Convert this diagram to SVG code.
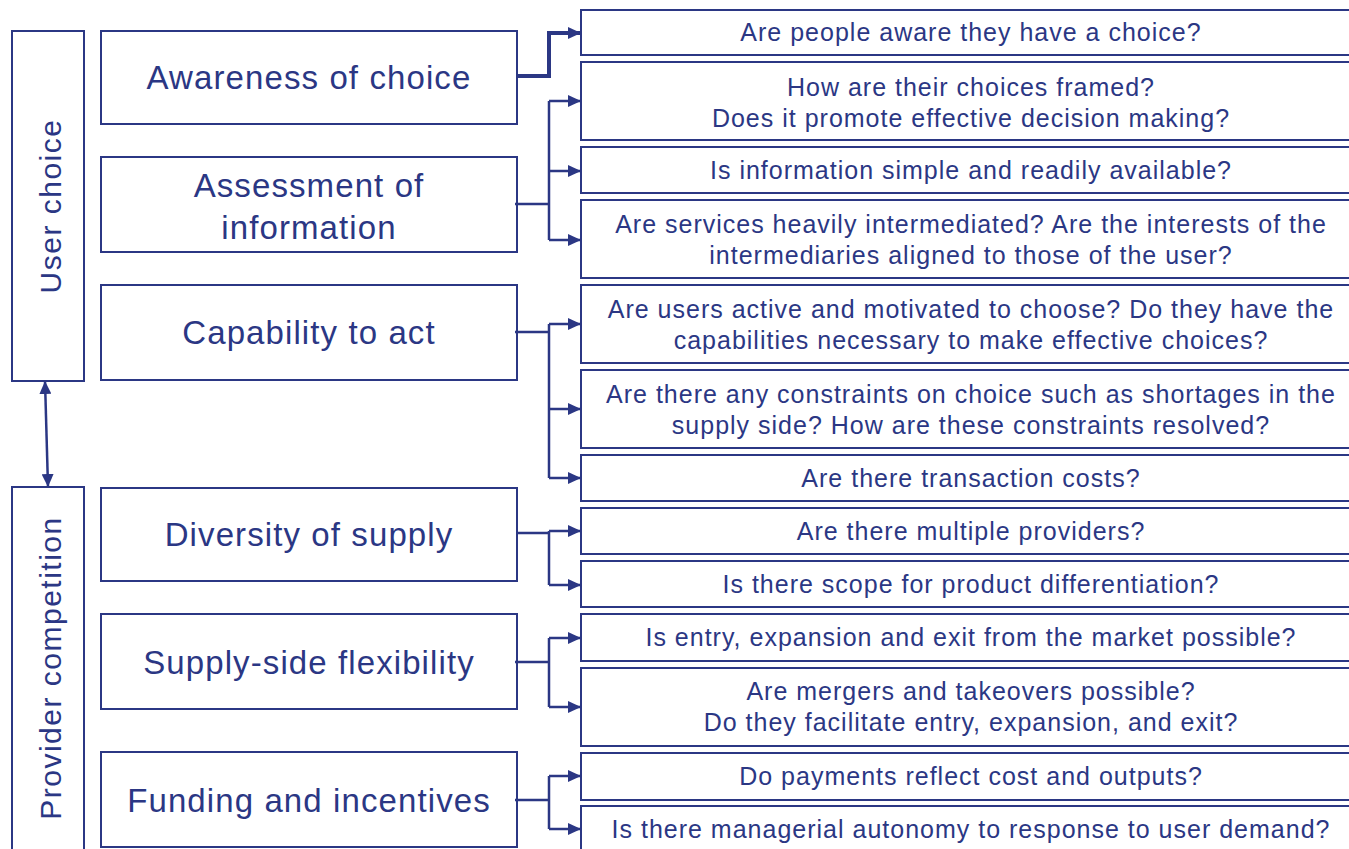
<svg xmlns="http://www.w3.org/2000/svg" width="1349" height="849" viewBox="0 0 1349 849">
  <style>
    .box { fill: #ffffff; stroke: #2B3784; stroke-width: 2; }
    .lbl { font-family: "Liberation Sans", Arial, sans-serif; fill: #2B3784; text-anchor: middle; }
    .big { font-size: 33px; letter-spacing: 1.1px; }
    .side { font-size: 30px; letter-spacing: 1.5px; }
    .q { font-size: 25px; letter-spacing: 1px; }
    .wire { fill: none; stroke: #2B3784; stroke-width: 2.5; }
    .wire-thick { fill: none; stroke: #2B3784; stroke-width: 4; }
  </style>
  <defs>
    <marker id="head" markerUnits="userSpaceOnUse" markerWidth="14" markerHeight="12" refX="13" refY="6" orient="auto">
      <path d="M0,0 L13,6 L0,12 Z" fill="#2B3784"/>
    </marker>
    <marker id="head-start" markerUnits="userSpaceOnUse" markerWidth="14" markerHeight="12" refX="13" refY="6" orient="auto-start-reverse">
      <path d="M0,0 L13,6 L0,12 Z" fill="#2B3784"/>
    </marker>
  </defs>
  <rect width="1349" height="849" fill="#ffffff"/>

  <!-- side panels -->
  <g id="user-choice">
    <rect class="box" x="12" y="31" width="72" height="350"/>
    <text class="lbl side" transform="translate(61,206) rotate(-90)">User choice</text>
  </g>
  <g id="provider-competition">
    <rect class="box" x="12" y="487" width="72" height="380"/>
    <text class="lbl side" transform="translate(61,668) rotate(-90)">Provider competition</text>
  </g>

  <!-- dimension boxes -->
  <g id="awareness">
    <rect class="box" x="101" y="31" width="416" height="93"/>
    <text class="lbl big" x="309" y="89">Awareness of choice</text>
  </g>
  <g id="assessment">
    <rect class="box" x="101" y="157" width="416" height="95"/>
    <text class="lbl big" x="309" y="197">Assessment of</text>
    <text class="lbl big" x="309" y="239">information</text>
  </g>
  <g id="capability">
    <rect class="box" x="101" y="285" width="416" height="95"/>
    <text class="lbl big" x="309" y="344">Capability to act</text>
  </g>
  <g id="diversity">
    <rect class="box" x="101" y="488" width="416" height="93"/>
    <text class="lbl big" x="309" y="546">Diversity of supply</text>
  </g>
  <g id="flexibility">
    <rect class="box" x="101" y="614" width="416" height="95"/>
    <text class="lbl big" x="309" y="674">Supply-side flexibility</text>
  </g>
  <g id="funding">
    <rect class="box" x="101" y="752" width="416" height="95"/>
    <text class="lbl big" x="309" y="812">Funding and incentives</text>
  </g>

  <!-- question boxes -->
  <g id="q1">
    <rect class="box" x="581" y="10" width="800" height="45"/>
    <text class="lbl q" x="971" y="41">Are people aware they have a choice?</text>
  </g>
  <g id="q2">
    <rect class="box" x="581" y="62" width="800" height="78"/>
    <text class="lbl q" x="971" y="96">How are their choices framed?</text>
    <text class="lbl q" x="971" y="127">Does it promote effective decision making?</text>
  </g>
  <g id="q3">
    <rect class="box" x="581" y="147" width="800" height="46"/>
    <text class="lbl q" x="971" y="179">Is information simple and readily available?</text>
  </g>
  <g id="q4">
    <rect class="box" x="581" y="200" width="800" height="78"/>
    <text class="lbl q" x="971" y="233">Are services heavily intermediated? Are the interests of the</text>
    <text class="lbl q" x="971" y="264">intermediaries aligned to those of the user?</text>
  </g>
  <g id="q5">
    <rect class="box" x="581" y="285" width="800" height="78"/>
    <text class="lbl q" x="971" y="318">Are users active and motivated to choose? Do they have the</text>
    <text class="lbl q" x="971" y="349">capabilities necessary to make effective choices?</text>
  </g>
  <g id="q6">
    <rect class="box" x="581" y="370" width="800" height="78"/>
    <text class="lbl q" x="971" y="403">Are there any constraints on choice such as shortages in the</text>
    <text class="lbl q" x="971" y="434">supply side? How are these constraints resolved?</text>
  </g>
  <g id="q7">
    <rect class="box" x="581" y="455" width="800" height="46"/>
    <text class="lbl q" x="971" y="487">Are there transaction costs?</text>
  </g>
  <g id="q8">
    <rect class="box" x="581" y="508" width="800" height="46"/>
    <text class="lbl q" x="971" y="540">Are there multiple providers?</text>
  </g>
  <g id="q9">
    <rect class="box" x="581" y="561" width="800" height="46"/>
    <text class="lbl q" x="971" y="593">Is there scope for product differentiation?</text>
  </g>
  <g id="q10">
    <rect class="box" x="581" y="614" width="800" height="47"/>
    <text class="lbl q" x="971" y="646">Is entry, expansion and exit from the market possible?</text>
  </g>
  <g id="q11">
    <rect class="box" x="581" y="668" width="800" height="78"/>
    <text class="lbl q" x="971" y="700">Are mergers and takeovers possible?</text>
    <text class="lbl q" x="971" y="731">Do they facilitate entry, expansion, and exit?</text>
  </g>
  <g id="q12">
    <rect class="box" x="581" y="753" width="800" height="47"/>
    <text class="lbl q" x="971" y="785">Do payments reflect cost and outputs?</text>
  </g>
  <g id="q13">
    <rect class="box" x="581" y="806" width="800" height="60"/>
    <text class="lbl q" x="971" y="838">Is there managerial autonomy to response to user demand?</text>
  </g>

  <!-- connectors -->
  <g id="connectors">
    <line class="wire" x1="45" y1="381" x2="48" y2="487" marker-start="url(#head-start)" marker-end="url(#head)"/>

    <path class="wire-thick" d="M517,76 H549 V33 H581" marker-end="url(#head)"/>

    <path class="wire" d="M515,204 H549 M549,101 V240"/>
    <path class="wire" d="M549,101 H581" marker-end="url(#head)"/>
    <path class="wire" d="M549,171 H581" marker-end="url(#head)"/>
    <path class="wire" d="M549,240 H581" marker-end="url(#head)"/>

    <path class="wire" d="M515,332 H549 M549,324 V478"/>
    <path class="wire" d="M549,324 H581" marker-end="url(#head)"/>
    <path class="wire" d="M549,409 H581" marker-end="url(#head)"/>
    <path class="wire" d="M549,478 H581" marker-end="url(#head)"/>

    <path class="wire" d="M517,533 H549 M549,531 V585"/>
    <path class="wire" d="M549,531 H581" marker-end="url(#head)"/>
    <path class="wire" d="M549,585 H581" marker-end="url(#head)"/>

    <path class="wire" d="M515,662 H549 M549,638 V707"/>
    <path class="wire" d="M549,638 H581" marker-end="url(#head)"/>
    <path class="wire" d="M549,707 H581" marker-end="url(#head)"/>

    <path class="wire" d="M515,800 H549 M549,776 V829"/>
    <path class="wire" d="M549,776 H581" marker-end="url(#head)"/>
    <path class="wire" d="M549,829 H581" marker-end="url(#head)"/>
  </g>
</svg>
